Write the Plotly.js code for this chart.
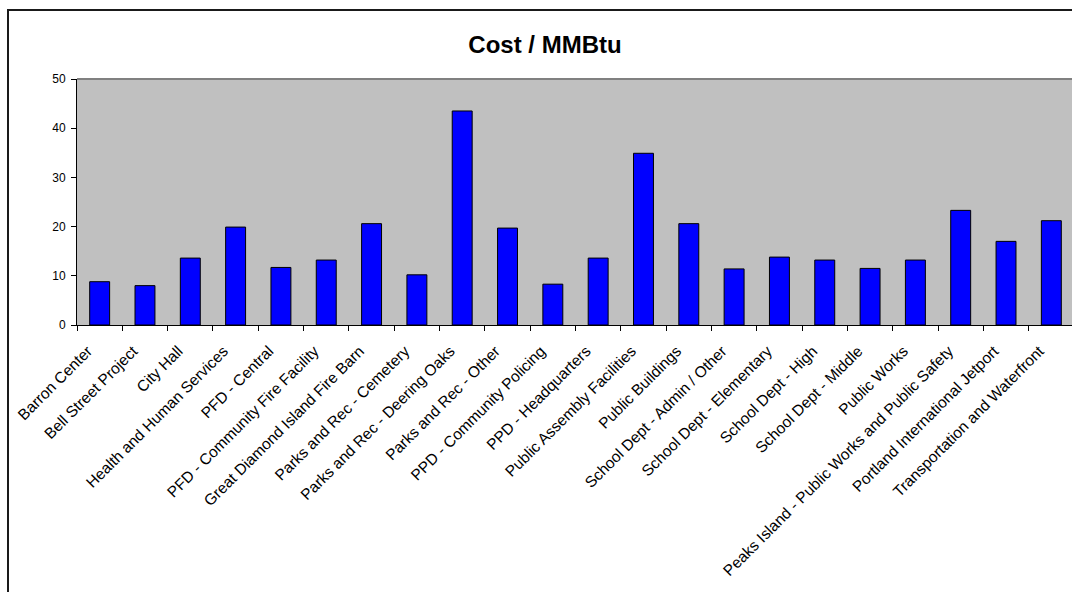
<!DOCTYPE html>
<html>
<head>
<meta charset="utf-8">
<script src="https://cdn.plot.ly/plotly-3.0.1.min.js"></script>
<style>
  html, body { margin: 0; padding: 0; background: #ffffff; overflow: hidden; width: 1072px; height: 592px; }
  #chart { position: absolute; left: 0; top: 0; width: 1090px; height: 600px; }
  #frame { position: absolute; left: 7px; top: 9px; width: 1120px; height: 700px;
           border: 2px solid #1a1a1a; pointer-events: none; }
</style>
</head>
<body>
<div id="chart"></div>
<div id="frame"></div>
<script>
// Facilities
const facilities = [
  "Barron Center",
  "Bell Street Project",
  "City Hall",
  "Health and Human Services",
  "PFD - Central",
  "PFD - Community Fire Facility",
  "Great Diamond Island Fire Barn",
  "Parks and Rec - Cemetery",
  "Parks and Rec - Deering Oaks",
  "Parks and Rec - Other",
  "PPD - Community Policing",
  "PPD - Headquarters",
  "Public Assembly Facilities",
  "Public Buildings",
  "School Dept - Admin / Other",
  "School Dept - Elementary",
  "School Dept - High",
  "School Dept - Middle",
  "Public Works",
  "Peaks Island - Public Works and Public Safety",
  "Portland International Jetport",
  "Transportation and Waterfront"
];

// Cost per MMBtu for each facility
const costPerMMBtu = [
  8.8, 8.0, 13.6, 19.9, 11.7, 13.2, 20.6, 10.2, 43.5, 19.7, 8.3,
  13.6, 34.9, 20.6, 11.4, 13.8, 13.2, 11.5, 13.2, 23.3, 17.0, 21.2
];

const yTickValues = [0, 10, 20, 30, 40, 50];

const FONT = '"Liberation Sans", Arial, Helvetica, sans-serif';

const trace = {
  type: 'bar',
  x: facilities,
  y: costPerMMBtu,
  marker: { color: '#0000ff', line: { color: '#000000', width: 1 } },
  hoverinfo: 'skip'
};

const layout = {
  width: 1090,
  height: 600,
  margin: { l: 77, r: 16, t: 79, b: 275, pad: 0 },
  paper_bgcolor: 'rgba(0,0,0,0)',
  plot_bgcolor: '#c0c0c0',
  showlegend: false,
  bargap: 0.56,
  font: { family: FONT, color: '#000000' },
  title: {
    text: '<b>Cost / MMBtu</b>',
    font: { family: FONT, size: 24, color: '#000000' },
    xref: 'container', x: 0.5, xanchor: 'center',
    yref: 'container', y: 1 - 45 / 600, yanchor: 'middle'
  },
  xaxis: {
    type: 'category',
    tickson: 'boundaries',
    ticks: 'outside', ticklen: 5, tickwidth: 1, tickcolor: '#000000',
    tickangle: -45,
    ticklabelshift: -12,
    ticklabelstandoff: 10,
    tickfont: { family: FONT, size: 15.5, color: '#000000' },
    showline: true, linecolor: '#000000', linewidth: 1,
    showgrid: false, zeroline: false,
    automargin: false,
    fixedrange: true
  },
  yaxis: {
    range: [0, 50],
    tickvals: yTickValues,
    ticktext: yTickValues.map(String),
    ticks: 'outside', ticklen: 5, tickwidth: 1, tickcolor: '#000000',
    ticklabelstandoff: 3,
    tickfont: { family: FONT, size: 12, color: '#000000' },
    showline: true, linecolor: '#000000', linewidth: 1,
    showgrid: false, zeroline: false,
    automargin: false,
    fixedrange: true
  },
  shapes: [
    {
      type: 'line', xref: 'paper', yref: 'paper',
      x0: 0, x1: 1, y0: 1, y1: 1,
      line: { color: '#808080', width: 2 },
      layer: 'above'
    }
  ]
};

Plotly.newPlot('chart', [trace], layout, { staticPlot: true, displayModeBar: false });
</script>
</body>
</html>
